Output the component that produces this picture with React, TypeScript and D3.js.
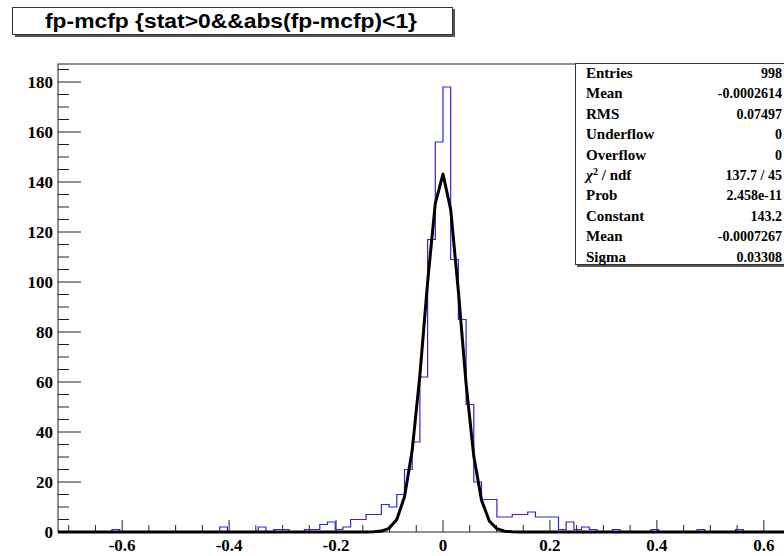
import React, { useEffect, useRef } from "react";
import * as d3 from "d3";

// histogram of fp-mcfp, 100 bins between histLow and histHigh
const histLow = -0.72;
const histHigh = 0.72;
const counts = [
  0, 0, 0, 0, 0, 0, 0, 1, 0, 0,
  0, 0, 0, 0, 0, 0, 0, 0, 0, 0,
  0, 2, 0, 0, 0, 0, 2, 0, 1, 1,
  0, 0, 1, 1, 3, 4, 1, 2, 5, 5,
  7, 7, 11, 10, 15, 25, 36, 62, 117, 156,
  178, 109, 85, 51, 20, 13, 13, 6, 6, 7,
  7, 8, 6, 6, 6, 1, 4, 1, 2, 1,
  0, 0, 1, 0, 0, 0, 0, 1, 0, 0,
  0, 0, 0, 1, 0, 0, 0, 0, 1, 0,
  0, 0, 0, 0, 0, 0, 0, 0, 0, 0,
];

// gaussian fit parameters (from the stats box)
const fitConstant = 143.2;
const fitMean = -0.0007267;
const fitSigma = 0.03308;
const fitPoints = 100;

const xTicks = [-0.6, -0.4, -0.2, 0, 0.2, 0.4, 0.6];
const xTickLabels = ["-0.6", "-0.4", "-0.2", "0", "0.2", "0.4", "0.6"];
const yTicks = [0, 20, 40, 60, 80, 100, 120, 140, 160, 180];
const yMax = 187.2;

const title = "fp-mcfp {stat>0&&abs(fp-mcfp)<1}";
const statLabels = ["Entries", "Mean", "RMS", "Underflow", "Overflow", "chi2", "Prob", "Constant", "Mean", "Sigma"];
const statValues = ["998", "-0.0002614", "0.07497", "0", "0", "137.7 / 45", "2.458e-11", "143.2", "-0.0007267", "0.03308"];

function App() {
  const canvas = useRef<HTMLDivElement>(null);

  const drawChart = () => {
    const width = 784;
    const height = 556;
    const margin = { top: 64, left: 58, bottom: 24 };

    d3.select(canvas.current).selectAll("*").remove();

    const svg = d3
      .select(canvas.current)
      .append("svg")
      .attr("width", width)
      .attr("height", height)
      .style("position", "absolute")
      .style("left", 0)
      .style("top", 0)
      .style("background", "#fff");

    const x = d3.scaleLinear().domain([histLow, histHigh]).range([margin.left, 828]);
    const y = d3.scaleLinear().domain([0, yMax]).range([height - margin.bottom, margin.top]);

    // frame
    svg
      .append("rect")
      .attr("x", x(histLow))
      .attr("y", y(yMax))
      .attr("width", x(histHigh) - x(histLow))
      .attr("height", y(0) - y(yMax))
      .attr("fill", "none")
      .attr("stroke", "#222")
      .attr("stroke-width", 1);

    // x ticks
    const xMinor = d3.range(-0.7, 0.7001, 0.05);
    svg
      .append("g")
      .selectAll("line")
      .data(xMinor)
      .enter()
      .append("line")
      .attr("x1", (d) => x(d))
      .attr("x2", (d) => x(d))
      .attr("y1", y(0))
      .attr("y2", (d) => y(0) - (Math.abs(Math.round(d * 100) % 20) === 0 ? 12 : 7))
      .attr("stroke", "#222");

    svg
      .append("g")
      .selectAll("text")
      .data(xTicks)
      .enter()
      .append("text")
      .attr("x", (d) => x(d))
      .attr("y", 551)
      .attr("text-anchor", "middle")
      .style("font-family", "'Liberation Serif', serif")
      .style("font-weight", "bold")
      .style("font-size", "17px")
      .text((d, i) => xTickLabels[i]);

    // y ticks
    const yMinor = d3.range(0, 186, 5);
    svg
      .append("g")
      .selectAll("line")
      .data(yMinor)
      .enter()
      .append("line")
      .attr("x1", x(histLow))
      .attr("x2", (d) => x(histLow) + (d % 20 === 0 ? 23 : 11))
      .attr("y1", (d) => y(d))
      .attr("y2", (d) => y(d))
      .attr("stroke", "#222");

    svg
      .append("g")
      .selectAll("text")
      .data(yTicks)
      .enter()
      .append("text")
      .attr("x", 53)
      .attr("y", (d) => y(d) + 6)
      .attr("text-anchor", "end")
      .style("font-family", "'Liberation Serif', serif")
      .style("font-weight", "bold")
      .style("font-size", "17px")
      .text((d) => d);

    // histogram outline
    const binWidth = (histHigh - histLow) / counts.length;
    const pts: [number, number][] = [[histLow, 0]];
    counts.forEach((c, i) => {
      pts.push([histLow + i * binWidth, c]);
      pts.push([histLow + (i + 1) * binWidth, c]);
    });
    pts.push([histHigh, 0]);

    svg
      .append("path")
      .attr("d", d3.line<[number, number]>().x((d) => x(d[0])).y((d) => y(d[1]))(pts))
      .attr("fill", "none")
      .attr("stroke", "#2a2ad0")
      .attr("stroke-width", 1.2);

    // gaussian fit
    const fit: [number, number][] = d3.range(fitPoints + 1).map((i) => {
      const xv = histLow + (i * (histHigh - histLow)) / fitPoints;
      const z = (xv - fitMean) / fitSigma;
      return [xv, fitConstant * Math.exp(-0.5 * z * z)];
    });

    svg
      .append("path")
      .attr("d", d3.line<[number, number]>().x((d) => x(d[0])).y((d) => y(d[1]))(fit))
      .attr("fill", "none")
      .attr("stroke", "#000")
      .attr("stroke-width", 3)
      .attr("stroke-linejoin", "round");

    // title box
    svg.append("rect").attr("x", 15).attr("y", 9).attr("width", 440).attr("height", 28).attr("fill", "#555");
    svg
      .append("rect")
      .attr("x", 12.5)
      .attr("y", 7.5)
      .attr("width", 440)
      .attr("height", 27)
      .attr("fill", "#fff")
      .attr("stroke", "#333");
    svg
      .append("text")
      .attr("x", 231)
      .attr("y", 28)
      .attr("text-anchor", "middle")
      .attr("textLength", 372)
      .attr("lengthAdjust", "spacingAndGlyphs")
      .style("font-family", "'Liberation Sans', Arial, sans-serif")
      .style("font-weight", "bold")
      .style("font-size", "20px")
      .text(title);

    // stats box
    svg.append("rect").attr("x", 577).attr("y", 66).attr("width", 220).attr("height", 201).attr("fill", "#555");
    svg
      .append("rect")
      .attr("x", 575.5)
      .attr("y", 63.5)
      .attr("width", 220)
      .attr("height", 201)
      .attr("fill", "#fff")
      .attr("stroke", "#333");

    const rowY = (i: number) => 78 + i * 20.4;
    const labels = svg
      .append("g")
      .selectAll("text")
      .data(statLabels)
      .enter()
      .append("text")
      .attr("x", 586)
      .attr("y", (d, i) => rowY(i))
      .style("font-family", "'Liberation Serif', serif")
      .style("font-weight", "bold")
      .style("font-size", "15px");
    labels.each(function (d) {
      const t = d3.select(this);
      if (d === "chi2") {
        t.append("tspan").style("font-style", "italic").text("\u03c7");
        t.append("tspan").attr("dy", -5).style("font-size", "10px").text("2");
        t.append("tspan").attr("dy", 5).text(" / ndf");
      } else {
        t.text(d);
      }
    });

    svg
      .append("g")
      .selectAll("text")
      .data(statValues)
      .enter()
      .append("text")
      .attr("x", 782)
      .attr("y", (d, i) => rowY(i))
      .attr("text-anchor", "end")
      .style("font-family", "'Liberation Serif', serif")
      .style("font-weight", "bold")
      .style("font-size", "14px")
      .text((d) => d);
  };

  useEffect(() => {
    drawChart();
  }, []);

  return <div ref={canvas}></div>;
}

export default App;
